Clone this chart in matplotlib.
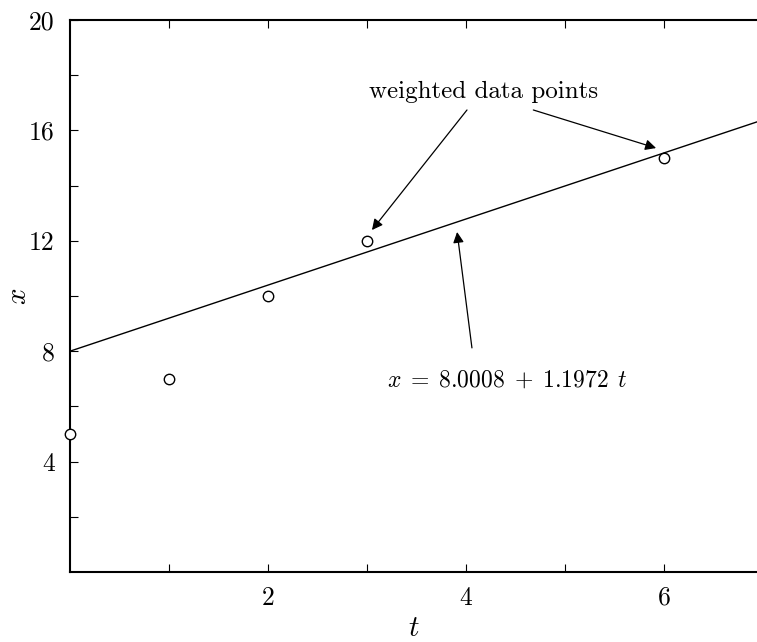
import numpy as np
import matplotlib
matplotlib.use("Agg")
import matplotlib.pyplot as plt

plt.rcParams['font.family'] = 'serif'
plt.rcParams['font.serif'] = ['cmr10']
plt.rcParams['mathtext.fontset'] = 'cm'
plt.rcParams['axes.unicode_minus'] = False

# weighted data points
t_data = [0, 1, 2, 3, 6]
x_data = [5, 7, 10, 12, 15]

# fitted line x = a + b t
a_fit = 8.0008
b_fit = 1.1972

x_major = [2, 4, 6]
x_minor = [1, 3, 5]
y_major = [4, 8, 12, 16, 20]
y_minor = [2, 6, 10, 14, 18]

fig = plt.figure(figsize=(7.57, 6.42), dpi=100)
ax = fig.add_axes([70/757, 1 - 572/642, 1 - 70/757, 552/642])

tt = np.array([0, 7.0])
ax.plot(tt, a_fit + b_fit*tt, color='black', lw=1.0)
ax.plot(t_data, x_data, 'o', mfc='white', mec='black', ms=7.5, mew=1.0, clip_on=False, zorder=5)

ax.set_xlim(0, 687/99)
ax.set_ylim(0, 20)
ax.set_xticks(x_major)
ax.set_xticks(x_minor, minor=True)
ax.set_yticks(y_major)
ax.set_yticks(y_minor, minor=True)
ax.tick_params(which='both', direction='in', top=True, labelsize=18.5, length=6, width=0.8, pad=11)
ax.tick_params(axis='x', pad=10)
for s in ['left', 'bottom', 'top']:
    ax.spines[s].set_linewidth(1.5)
ax.spines['right'].set_visible(False)

ax.set_xlabel('$t$', fontsize=21, labelpad=4)
fig.text(19/757, 1 - 296/642, '$x$', fontsize=21, rotation=90, ha='center', va='center')

arrow = dict(arrowstyle='-|>', color='black', lw=0.9, mutation_scale=16, shrinkA=0, shrinkB=0)
ax.text(4.18, 17.39, 'weighted data points', fontsize=18, ha='center', va='center')
ax.annotate('', xy=(3.05, 12.39), xytext=(4.01, 16.74), arrowprops=arrow)
ax.annotate('', xy=(5.92, 15.36), xytext=(4.68, 16.74), arrowprops=arrow)
ax.text(4.41, 6.92, r'$x\;=\;8.0008\;+\;1.1972\;\,t$', fontsize=17, ha='center', va='center')
ax.annotate('', xy=(3.91, 12.32), xytext=(4.06, 8.12), arrowprops=arrow)

fig.savefig('out.png', dpi=100)
